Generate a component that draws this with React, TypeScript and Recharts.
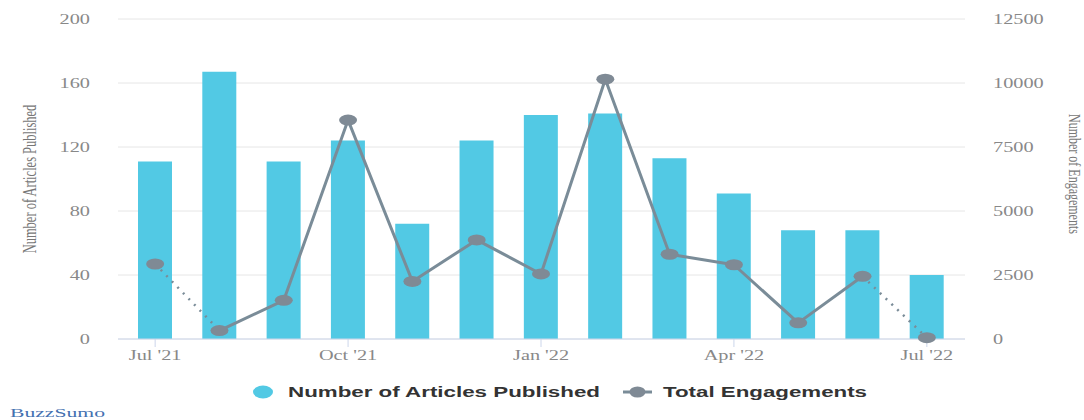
import { Bar, CartesianGrid, ComposedChart, Line, XAxis, YAxis } from "recharts";

const months = [
  "Jul '21", "Aug '21", "Sep '21", "Oct '21", "Nov '21", "Dec '21",
  "Jan '22", "Feb '22", "Mar '22", "Apr '22", "May '22", "Jun '22", "Jul '22",
];
const articlesPublished = [111, 167, 111, 124, 72, 124, 140, 141, 113, 91, 68, 68, 40];
const totalEngagements = [2930, 330, 1510, 8550, 2250, 3870, 2540, 10150, 3310, 2900, 630, 2450, 50];
const monthTicks = ["Jul '21", "Oct '21", "Jan '22", "Apr '22", "Jul '22"];
const articleTicks = [0, 40, 80, 120, 160, 200];
const engagementTicks = [0, 2500, 5000, 7500, 10000, 12500];

const last = months.length - 1;
// first and last segments of the engagement line are drawn dotted (incomplete months)
const data = months.map((month, i) => ({
  month,
  articles: articlesPublished[i],
  engSolid: i > 0 && i < last ? totalEngagements[i] : null,
  engDotted: i <= 1 || i >= last - 1 ? totalEngagements[i] : null,
}));

const BAR = "#52c9e4";
const LINE = "#7a8c98";
const DOT = "#7f8a95";
const MUTED = "#888";
const AXIS = "#ccd6eb";
const SERIF = "'Liberation Serif', 'DejaVu Serif', serif";
const SANS = "'Liberation Sans', Arial, sans-serif";
const STRETCH = 1.45;

function StretchedTick(props: any) {
  const { x, y, payload, textAnchor, dy } = props;
  return (
    <g transform={`translate(${x},${y}) scale(${STRETCH},1)`}>
      <text textAnchor={textAnchor} dy={dy} fill={MUTED} fontFamily={SERIF} fontSize={14}>
        {payload.value}
      </text>
    </g>
  );
}

function dotRenderer(only?: number[]) {
  return (props: any) => {
    const { cx, cy, index } = props;
    if (cx == null || cy == null || (only && !only.includes(index))) {
      return <g key={`dot-${index}`} />;
    }
    return <ellipse key={`dot-${index}`} cx={cx} cy={cy} rx={9} ry={5.5} fill={DOT} />;
  };
}

export default function App() {
  return (
    <div style={{ position: "absolute", left: 0, top: 0, width: 1084, height: 420, background: "#fff" }}>
      <ComposedChart width={1084} height={420} data={data} margin={{ top: 19, right: 0, bottom: 50, left: 0 }}>
        <CartesianGrid yAxisId="articles" vertical={false} stroke="#e6e6e6" />
        <XAxis
          dataKey="month"
          ticks={monthTicks}
          interval={0}
          padding={{ left: 5, right: 6 }}
          height={31}
          tickSize={8}
          tickMargin={2}
          axisLine={{ stroke: AXIS }}
          tickLine={{ stroke: AXIS }}
          tick={<StretchedTick dy="0.75em" />}
        />
        <YAxis
          yAxisId="articles"
          domain={[0, 200]}
          ticks={articleTicks}
          width={118}
          axisLine={false}
          tickLine={false}
          tickSize={0}
          tickMargin={28}
          tick={<StretchedTick dy="0.35em" />}
          label={{
            content: () => (
              <text
                transform={`translate(30,179) rotate(-90) scale(1,${STRETCH})`}
                textAnchor="middle"
                dy="0.35em"
                fill="#777"
                fontFamily={SERIF}
                fontSize={12.5}
              >
                Number of Articles Published
              </text>
            ),
          }}
        />
        <YAxis
          yAxisId="engagements"
          orientation="right"
          domain={[0, 12500]}
          ticks={engagementTicks}
          width={119}
          axisLine={false}
          tickLine={false}
          tickSize={0}
          tickMargin={28}
          tick={<StretchedTick dy="0.35em" />}
          label={{
            content: () => (
              <text
                transform={`translate(1075,174) rotate(90) scale(1,${STRETCH})`}
                textAnchor="middle"
                dy="0.35em"
                fill="#777"
                fontFamily={SERIF}
                fontSize={12}
              >
                Number of Engagements
              </text>
            ),
          }}
        />
        <Bar yAxisId="articles" dataKey="articles" fill={BAR} barSize={34} isAnimationActive={false} />
        <Line
          yAxisId="engagements"
          dataKey="engDotted"
          stroke={LINE}
          strokeWidth={2.5}
          strokeDasharray="2 6"
          connectNulls={false}
          dot={dotRenderer([0, last])}
          activeDot={false}
          isAnimationActive={false}
        />
        <Line
          yAxisId="engagements"
          dataKey="engSolid"
          stroke={LINE}
          strokeWidth={3}
          strokeLinejoin="round"
          connectNulls={false}
          dot={dotRenderer()}
          activeDot={false}
          isAnimationActive={false}
        />
      </ComposedChart>
      <svg width={1084} height={420} style={{ position: "absolute", left: 0, top: 0, pointerEvents: "none" }}>
        <ellipse cx={263} cy={392} rx={10} ry={6.5} fill={BAR} />
        <text x={288} y={397} fill="#333" fontFamily={SANS} fontWeight="bold" fontSize={14} textLength={312} lengthAdjust="spacingAndGlyphs">
          Number of Articles Published
        </text>
        <line x1={623} y1={392} x2={652} y2={392} stroke={LINE} strokeWidth={3} />
        <ellipse cx={637.5} cy={392} rx={8} ry={5.5} fill={DOT} />
        <text x={663} y={397} fill="#333" fontFamily={SANS} fontWeight="bold" fontSize={14} textLength={204} lengthAdjust="spacingAndGlyphs">
          Total Engagements
        </text>
        <text x={10} y={417} fill="#4470b0" fontFamily={SERIF} fontSize={13} textLength={95} lengthAdjust="spacingAndGlyphs">
          BuzzSumo
        </text>
      </svg>
    </div>
  );
}
